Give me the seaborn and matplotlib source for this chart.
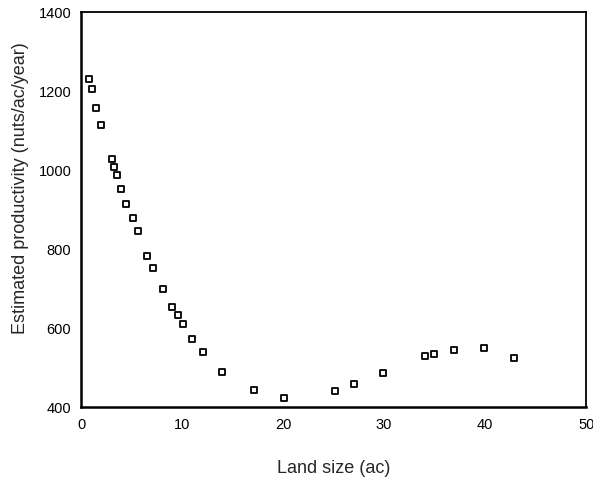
import matplotlib
matplotlib.use("Agg")
import matplotlib.pyplot as plt
import seaborn as sns
import pandas as pd

# Land size (ac) vs estimated productivity (nuts/ac/year)
land_size = [0.8, 1.06, 1.5, 2.0, 3.1, 3.3, 3.6, 4.0, 4.5, 5.1, 5.6, 6.5,
             7.1, 8.1, 9.0, 9.55, 10.1, 11.0, 12.1, 14.0, 17.1, 20.1,
             25.1, 27.0, 29.9, 34.0, 34.9, 36.9, 39.9, 42.9]
productivity = [1230, 1206, 1157, 1113, 1027, 1008, 987, 952, 915, 879, 845, 782,
                752, 699, 653, 633, 609, 573, 539, 489, 443, 422,
                439, 457, 486, 528, 534, 544, 548, 524]

x_ticks = [0, 10, 20, 30, 40, 50]
y_ticks = [400, 600, 800, 1000, 1200, 1400]

df = pd.DataFrame({"land": land_size, "prod": productivity})

sns.set_style("white")
plt.rcParams["font.family"] = ["Liberation Sans", "DejaVu Sans"]

fig = plt.figure(figsize=(5.93, 4.81), dpi=100)
ax = fig.add_axes([0.1366, 0.152, 0.852, 0.821])

sns.scatterplot(data=df, x="land", y="prod", marker="s", s=24,
                facecolor="white", edgecolor="black", linewidth=1.3, ax=ax)

ax.set_xlim(0, 50)
ax.set_ylim(400, 1400)
ax.set_xticks(x_ticks)
ax.set_yticks(y_ticks)
ax.tick_params(axis="both", direction="out", length=4, width=3,
               labelsize=10.5, colors="black", pad=3)
for side in ["left", "bottom", "right", "top"]:
    ax.spines[side].set_visible(True)
    ax.spines[side].set_color("black")
ax.spines["left"].set_linewidth(1.8)
ax.spines["bottom"].set_linewidth(1.8)
ax.spines["right"].set_linewidth(1.3)
ax.spines["top"].set_linewidth(1.3)

ax.set_xlabel("Land size (ac)", fontsize=13)
ax.set_ylabel("Estimated productivity (nuts/ac/year)", fontsize=13)
ax.xaxis.set_label_coords(0.5, -0.132)
ax.yaxis.set_label_coords(-0.103, 0.557)

fig.savefig("out.png", dpi=100)
